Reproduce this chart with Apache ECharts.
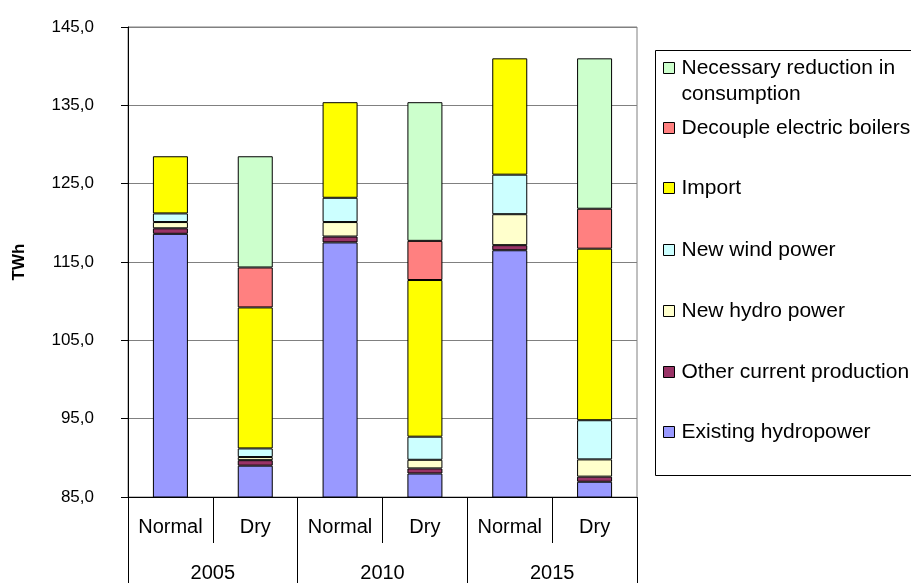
<!DOCTYPE html>
<html>
<head>
<meta charset="utf-8">
<script src="https://cdn.jsdelivr.net/npm/echarts@6/dist/echarts.min.js"></script>
<style>
  html, body { margin: 0; padding: 0; background: #ffffff; }
  #chart { width: 911px; height: 583px; }
</style>
</head>
<body>
<div id="chart"></div>
<script>
// Scenario categories (inner axis) and years (outer axis)
const scenarios = ['Normal', 'Dry', 'Normal', 'Dry', 'Normal', 'Dry'];
const years = ['2005', '2010', '2015'];
const yTicks = { min: 85, max: 145, step: 10 };

// Energy balance components, TWh
const existingHydro   = [118.6, 89.0, 117.5, 88.0, 116.5, 86.95];
const otherProduction = [0.7, 0.7, 0.75, 0.65, 0.65, 0.65];
const newHydro        = [0.8, 0.4, 1.85, 1.1, 3.95, 2.2];
const newWind         = [1.1, 1.1, 3.1, 2.95, 5.05, 5.0];
const importPower     = [7.3, 18.0, 12.2, 20.0, 14.85, 21.9];
const decoupleBoilers = [null, 5.1, null, 5.0, null, 5.1];
const reduction       = [null, 14.2, null, 17.7, null, 19.2];

const FONT = '"Liberation Sans", Arial, sans-serif';

const seriesDefs = [
  { name: 'Existing hydropower', data: existingHydro, color: '#9999FF' },
  { name: 'Other current production', data: otherProduction, color: '#993366' },
  { name: 'New hydro power', data: newHydro, color: '#FFFFCC' },
  { name: 'New wind power', data: newWind, color: '#CCFFFF' },
  { name: 'Import', data: importPower, color: '#FFFF00' },
  { name: 'Decouple electric boilers', data: decoupleBoilers, color: '#FF8080' },
  { name: 'Necessary reduction in consumption', data: reduction, color: '#CCFFCC' }
];

// Legend entries, top to bottom, with their vertical centres
const legendRows = [
  { name: 'Necessary reduction in consumption', center: 68, wrap: true },
  { name: 'Decouple electric boilers', center: 128 },
  { name: 'Import', center: 188 },
  { name: 'New wind power', center: 250 },
  { name: 'New hydro power', center: 311 },
  { name: 'Other current production', center: 372 },
  { name: 'Existing hydropower', center: 432 }
];

const LH = 26;
// The wrapped entry uses an empty first line so that its first text line
// sits level with the colour swatch and the second line falls below it.
const legends = legendRows.map(r => ({
  data: [r.name],
  left: 663,
  top: r.wrap ? r.center - LH * 1.5 : r.center - LH / 2,
  padding: 0,
  orient: 'vertical',
  icon: 'rect',
  itemWidth: 11,
  itemHeight: 11,
  selectedMode: false,
  itemStyle: { borderColor: '#000', borderWidth: 1 },
  formatter: r.wrap ? () => '\nNecessary reduction in\nconsumption' : '{name}',
  textStyle: { fontFamily: FONT, fontSize: 21, color: '#000', lineHeight: LH, padding: [0, 0, 0, 2] }
}));

const chart = echarts.init(document.getElementById('chart'), null, { renderer: 'canvas' });

chart.setOption({
  backgroundColor: '#ffffff',
  animation: false,
  textStyle: { fontFamily: FONT },
  grid: {
    left: 128, right: 274, top: 27, bottom: 85,
    show: true, borderColor: '#808080', borderWidth: 1, backgroundColor: 'transparent'
  },
  legend: legends,
  graphic: [{
    type: 'rect',
    shape: { x: 655.5, y: 50.5, width: 300, height: 425 },
    style: { fill: 'none', stroke: '#000', lineWidth: 1 },
    z: 0
  }],
  xAxis: [
    {
      type: 'category',
      data: scenarios,
      position: 'bottom',
      axisLine: { lineStyle: { color: '#000', width: 1 } },
      axisTick: { show: true, interval: 0, length: 46, lineStyle: { color: '#000' } },
      axisLabel: { interval: 0, fontSize: 20, color: '#000', margin: 20, fontFamily: FONT },
      splitLine: { show: false }
    },
    {
      type: 'category',
      data: years,
      position: 'bottom',
      offset: 0,
      axisLine: { show: false },
      axisTick: { show: true, interval: 0, length: 90, lineStyle: { color: '#000' } },
      axisLabel: { interval: 0, fontSize: 20, color: '#000', margin: 66, fontFamily: FONT },
      splitLine: { show: false }
    }
  ],
  yAxis: {
    type: 'value',
    min: yTicks.min,
    max: yTicks.max,
    interval: yTicks.step,
    name: 'TWh',
    nameLocation: 'middle',
    nameRotate: 90,
    nameGap: 100,
    nameTextStyle: { fontSize: 17, fontWeight: 'bold', color: '#000', fontFamily: FONT },
    axisLine: { show: true, lineStyle: { color: '#000', width: 1 } },
    axisTick: { show: true, length: 7, inside: false, lineStyle: { color: '#000' } },
    axisLabel: {
      fontSize: 17, color: '#000', margin: 34, fontFamily: FONT,
      formatter: v => v.toFixed(1).replace('.', ',')
    },
    splitLine: { show: true, lineStyle: { color: '#808080', width: 1 } }
  },
  series: seriesDefs.map(s => ({
    type: 'bar',
    name: s.name,
    stack: 'total',
    xAxisIndex: 0,
    data: s.data,
    barWidth: 35,
    itemStyle: { color: s.color, borderColor: '#000', borderWidth: 1 },
    emphasis: { disabled: true }
  }))
});
</script>
</body>
</html>
